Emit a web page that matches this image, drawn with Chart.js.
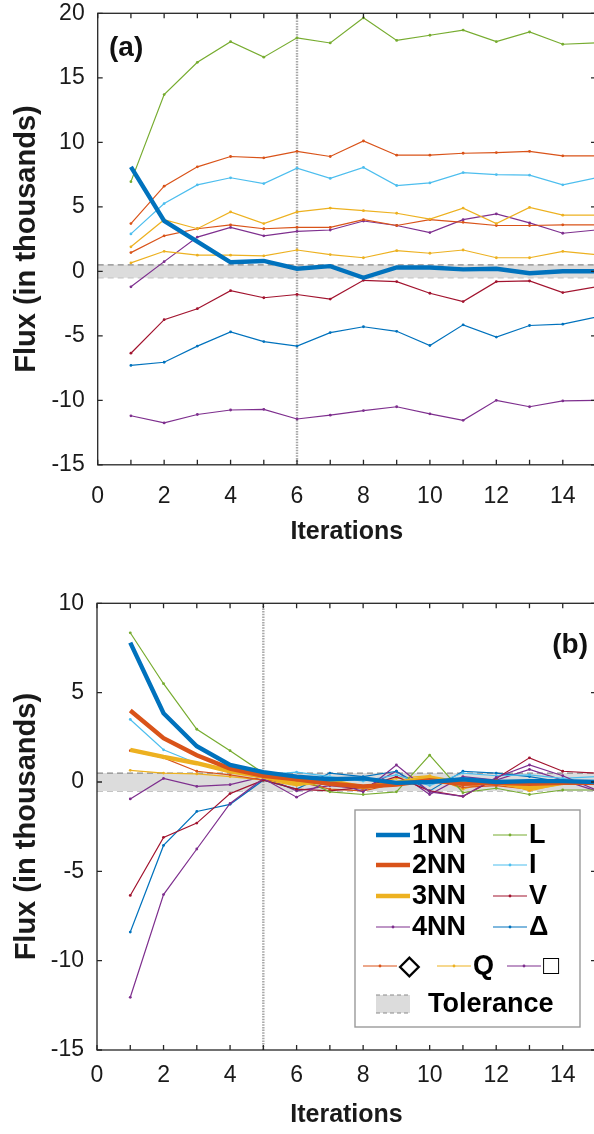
<!DOCTYPE html>
<html>
<head>
<meta charset="utf-8">
<script src="https://cdn.jsdelivr.net/npm/chart.js@4.4.0/dist/chart.umd.min.js"></script>
<style>
    html, body { margin: 0; padding: 0; background: #fff; width: 594px; height: 1134px; overflow: hidden; }
    canvas { position: absolute; left: 0; }
</style>
</head>
<body>
<canvas id="chartA" width="600" height="567" style="top:0"></canvas>
<canvas id="chartB" width="600" height="567" style="top:567px"></canvas>
<script>
const iterations = [1, 2, 3, 4, 5, 6, 7, 8, 9, 10, 11, 12, 13, 14, 15];
const xRange = [0, 15];
const yRangeA = [-15, 20];
const yRangeB = [-15, 10];
const tolerance = 0.5;
const stopIterA = 6;
const stopIterB = 5;

const seriesNames = ["1NN", "2NN", "3NN", "4NN", "L", "I", "V", "Δ", "◇", "Q", "□"];
const seriesColors = ["#0072BD", "#D95319", "#EDB120", "#7E2F8E", "#77AC30", "#4DBEEE",
                      "#A2142F", "#0072BD", "#D95319", "#EDB120", "#7E2F8E"];

// panel (a)
const aNN1 = [8.1, 3.9, 2.3, 0.7, 0.8, 0.2, 0.4, -0.5, 0.3, 0.3, 0.15, 0.2, -0.15, 0.0, 0.0];
const aNN2 = [3.7, 6.6, 8.1, 8.9, 8.8, 9.3, 8.9, 10.1, 9.0, 9.0, 9.15, 9.2, 9.3, 8.95, 8.95];
const aNN3 = [1.9, 4.0, 3.3, 4.6, 3.7, 4.6, 4.9, 4.7, 4.5, 4.05, 4.9, 3.7, 4.95, 4.35, 4.35];
const aNN4 = [-11.2, -11.75, -11.1, -10.75, -10.7, -11.45, -11.15, -10.8, -10.5, -11.05, -11.55, -10.0, -10.5, -10.05, -10.0];
const aL = [6.95, 13.7, 16.2, 17.8, 16.6, 18.1, 17.7, 19.65, 17.9, 18.3, 18.7, 17.8, 18.55, 17.6, 17.7];
const aI = [2.9, 5.25, 6.7, 7.25, 6.8, 8.0, 7.2, 8.05, 6.65, 6.85, 7.65, 7.5, 7.45, 6.7, 7.25];
const aV = [-6.35, -3.75, -2.9, -1.5, -2.05, -1.8, -2.15, -0.7, -0.8, -1.7, -2.35, -0.8, -0.75, -1.65, -1.2];
const aDelta = [-7.3, -7.05, -5.8, -4.7, -5.45, -5.8, -4.75, -4.3, -4.65, -5.75, -4.15, -5.1, -4.2, -4.1, -3.55];
const aDiamond = [1.45, 2.75, 3.3, 3.6, 3.3, 3.4, 3.4, 4.0, 3.55, 4.0, 3.8, 3.55, 3.55, 3.6, 3.6];
const aQ = [0.65, 1.55, 1.25, 1.25, 1.2, 1.65, 1.3, 1.05, 1.6, 1.4, 1.65, 1.05, 1.05, 1.55, 1.3];
const aSquare = [-1.2, 0.75, 2.65, 3.4, 2.75, 3.1, 3.2, 3.9, 3.55, 3.0, 4.0, 4.45, 3.75, 2.95, 3.2];

// panel (b)
const bNN1 = [7.8, 3.85, 2.0, 0.95, 0.55, 0.3, 0.15, 0.2, -0.05, 0.0, 0.15, 0.0, 0.05, 0.05, 0.0];
const bNN2 = [4.0, 2.45, 1.5, 0.75, 0.35, 0.15, -0.1, -0.25, -0.15, 0.1, -0.1, -0.05, -0.1, -0.05, -0.05];
const bNN3 = [1.8, 1.4, 1.05, 0.6, 0.3, -0.1, 0.05, -0.3, -0.05, 0.25, -0.1, 0.0, -0.35, -0.05, -0.05];
const bNN4 = [-12.05, -6.3, -3.75, -1.2, 0.2, -0.85, 0.1, -0.55, 0.95, -0.55, -0.8, 0.25, 0.95, 0.35, -0.45];
const bL = [8.35, 5.5, 2.95, 1.75, 0.5, 0.3, -0.55, -0.7, -0.55, 1.5, -0.6, -0.35, -0.7, -0.45, -0.45];
const bI = [3.5, 1.8, 1.05, 0.65, 0.4, 0.55, 0.3, 0.05, 0.4, -0.2, 0.5, 0.35, 0.4, 0.2, 0.3];
const bV = [-6.35, -3.1, -2.3, -0.65, 0.1, -0.4, -0.5, -0.3, 0.3, -0.5, -0.8, 0.2, 1.35, 0.6, 0.5];
const bDelta = [-8.4, -3.55, -1.65, -1.25, 0.1, -0.4, 0.5, 0.3, 0.6, -0.5, 0.6, 0.5, 0.3, 0.0, 0.0];
const bDiamond = [1.75, 1.35, 0.6, 0.4, 0.1, 0.05, -0.4, -0.5, -0.1, 0.2, -0.3, -0.2, -0.4, 0.0, 0.0];
const bQ = [0.65, 0.5, 0.45, 0.3, 0.1, -0.2, 0.1, -0.3, 0.2, 0.35, -0.4, 0.1, -0.5, -0.1, 0.0];
const bSquare = [-0.95, 0.2, -0.25, -0.15, 0.3, -0.5, -0.2, -0.4, 0.6, -0.7, 0.3, 0.1, 0.7, 0.1, -0.5];

const panelA = [aNN1, aNN2, aNN3, aNN4, aL, aI, aV, aDelta, aDiamond, aQ, aSquare];
const panelB = [bNN1, bNN2, bNN3, bNN4, bL, bI, bV, bDelta, bDiamond, bQ, bSquare];

const FONT = "'Liberation Sans', Arial, sans-serif";
const INK = "#1a1a1a";

function lineSet(idx, values, thick) {
    return {
        label: seriesNames[idx],
        data: values.map((v, i) => ({ x: iterations[i], y: v })),
        borderColor: seriesColors[idx],
        backgroundColor: seriesColors[idx],
        borderWidth: thick ? 4.4 : 1.2,
        pointRadius: thick ? 0 : 1.4,
        pointBorderWidth: 0,
        tension: 0,
        fill: false,
        order: idx
    };
}

function bandSets(yMin, yMax, stopIter) {
    return [
        {
            label: "tolUpper",
            data: xRange.map(x => ({ x: x, y: tolerance })),
            borderColor: "#8a8a8a", borderDash: [6, 4], borderWidth: 1.2,
            pointRadius: 0, fill: "+1", backgroundColor: "#dcdcdc", order: 50
        },
        {
            label: "tolLower",
            data: xRange.map(x => ({ x: x, y: -tolerance })),
            borderColor: "#8a8a8a", borderDash: [6, 4], borderWidth: 1.2,
            pointRadius: 0, fill: false, order: 51
        },
        {
            label: "stop",
            data: [{ x: stopIter, y: yMin }, { x: stopIter, y: yMax }],
            borderColor: "#a8a8a8", borderDash: [1.5, 1.2], borderWidth: 2.4,
            pointRadius: 0, fill: false, order: 40
        }
    ];
}

function buildScales(yMin, yMax, cfg) {
    return {
        x: {
            type: "linear", min: xRange[0], max: xRange[1],
            grid: { display: false, drawTicks: false }, border: { display: false },
            ticks: {
                stepSize: 1, includeBounds: false, autoSkip: false, maxRotation: 0,
                padding: cfg.xTickPad, color: INK, font: { family: FONT, size: 23 },
                callback: v => (v % 2 === 0 ? v : "")
            },
            title: { display: true, text: "Iterations", color: INK,
                     font: { family: FONT, size: 25, weight: "bold" },
                     padding: { top: 0, bottom: cfg.xTitlePad } },
            afterFit: s => { s.height = cfg.xHeight; s.paddingLeft = 0; s.paddingRight = 0; }
        },
        y: {
            min: yMin, max: yMax,
            grid: { display: false, drawTicks: false }, border: { display: false },
            ticks: { stepSize: 5, padding: 13, color: INK, font: { family: FONT, size: 23 } },
            title: { display: true, text: "Flux (in thousands)", color: INK,
                     font: { family: FONT, size: 29, weight: "bold" },
                     padding: { top: 10, bottom: 0 } },
            afterFit: s => { s.width = cfg.yWidth; s.paddingTop = 0; s.paddingBottom = 0; }
        }
    };
}

const framePlugin = {
    id: "frame",
    afterDraw(chart, args, opts) {
        const { ctx, chartArea: a, scales: { x, y } } = chart;
        ctx.save();
        ctx.strokeStyle = "#262626";
        ctx.lineWidth = 1.3;
        ctx.strokeRect(a.left, a.top, a.right - a.left, a.bottom - a.top);
        ctx.beginPath();
        x.ticks.forEach(t => {
            const px = x.getPixelForValue(t.value);
            ctx.moveTo(px, a.bottom); ctx.lineTo(px, a.bottom - 5);
            ctx.moveTo(px, a.top); ctx.lineTo(px, a.top + 5);
        });
        y.ticks.forEach(t => {
            const py = y.getPixelForValue(t.value);
            ctx.moveTo(a.left, py); ctx.lineTo(a.left + 5, py);
            ctx.moveTo(a.right, py); ctx.lineTo(a.right - 5, py);
        });
        ctx.stroke();
        ctx.fillStyle = "#111";
        ctx.font = "bold 28px " + FONT;
        ctx.textAlign = opts.align;
        ctx.textBaseline = "middle";
        ctx.fillText(opts.tag, opts.x, opts.y);
        ctx.restore();
    }
};

// legend of panel (b), drawn on top of the plot
const legendRows = [268, 298, 329, 360, 399, 437];
const legendSlots = [
    { name: "1NN", x: 376, row: 0 }, { name: "L", x: 493, row: 0 },
    { name: "2NN", x: 376, row: 1 }, { name: "I", x: 493, row: 1 },
    { name: "3NN", x: 376, row: 2 }, { name: "V", x: 493, row: 2 },
    { name: "4NN", x: 376, row: 3 }, { name: "Δ", x: 493, row: 3 },
    { name: "◇", x: 363, row: 4 }, { name: "Q", x: 437, row: 4 }, { name: "□", x: 507, row: 4 }
];

const legendPlugin = {
    id: "fluxLegend",
    afterDraw(chart) {
        const ctx = chart.ctx;
        ctx.save();
        ctx.fillStyle = "#fff";
        ctx.fillRect(355, 243, 225, 217);
        ctx.strokeStyle = "#9a9a9a";
        ctx.lineWidth = 1.4;
        ctx.strokeRect(355, 243, 225, 217);
        ctx.textBaseline = "middle";
        ctx.textAlign = "left";
        ctx.font = "bold 27px " + FONT;
        legendSlots.forEach(s => {
            const ds = chart.data.datasets.find(d => d.label === s.name);
            const yy = legendRows[s.row];
            ctx.strokeStyle = ds.borderColor;
            ctx.lineWidth = ds.borderWidth;
            ctx.beginPath();
            ctx.moveTo(s.x, yy); ctx.lineTo(s.x + 34, yy);
            ctx.stroke();
            if (ds.pointRadius > 0) {
                ctx.fillStyle = ds.borderColor;
                ctx.beginPath();
                ctx.arc(s.x + 17, yy, ds.pointRadius, 0, Math.PI * 2);
                ctx.fill();
            }
            ctx.fillStyle = "#000";
            ctx.fillText(s.name, s.x + 36, yy + 1);
        });
        const ty = legendRows[5];
        ctx.fillStyle = "#dcdcdc";
        ctx.fillRect(376, ty - 9, 34, 18);
        ctx.strokeStyle = "#8a8a8a";
        ctx.lineWidth = 1.2;
        ctx.setLineDash([4, 3]);
        ctx.beginPath();
        ctx.moveTo(376, ty - 9); ctx.lineTo(410, ty - 9);
        ctx.moveTo(376, ty + 9); ctx.lineTo(410, ty + 9);
        ctx.stroke();
        ctx.setLineDash([]);
        ctx.fillStyle = "#000";
        ctx.fillText("Tolerance", 428, ty + 1);
        ctx.restore();
    }
};

function makeChart(id, values, thickCount, yRange, stopIter, cfg, tag, plugins) {
    const datasets = values.map((v, i) => lineSet(i, v, i < thickCount))
        .concat(bandSets(yRange[0], yRange[1], stopIter));
    return new Chart(document.getElementById(id), {
        type: "line",
        data: { datasets: datasets },
        options: {
            responsive: false,
            animation: false,
            layout: { padding: { top: cfg.padTop, right: 1.3, left: 0, bottom: 0 } },
            scales: buildScales(yRange[0], yRange[1], cfg),
            plugins: { legend: { display: false }, tooltip: { enabled: false }, frame: tag }
        },
        plugins: plugins
    });
}

makeChart("chartA", panelA, 1, yRangeA, stopIterA,
    { padTop: 13.3, xHeight: 102.2, yWidth: 97.7, xTickPad: 18, xTitlePad: 20 },
    { tag: "(a)", x: 109, y: 48, align: "left" }, [framePlugin]);

makeChart("chartB", panelB, 3, yRangeB, stopIterB,
    { padTop: 36.3, xHeight: 84, yWidth: 97, xTickPad: 12, xTitlePad: 4 },
    { tag: "(b)", x: 588, y: 78, align: "right" }, [framePlugin, legendPlugin]);
</script>
</body>
</html>
